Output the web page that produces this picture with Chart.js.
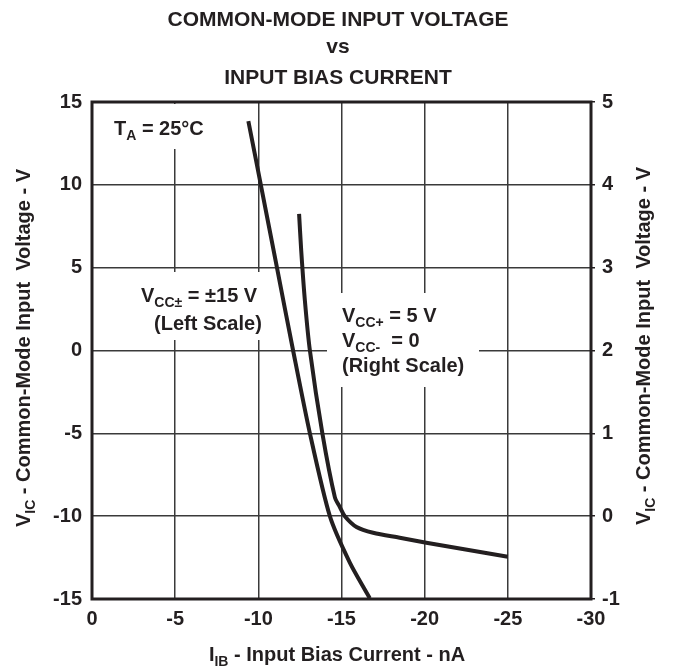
<!DOCTYPE html>
<html>
<head>
<meta charset="utf-8">
<script src="https://cdn.jsdelivr.net/npm/chart.js@4.4.1/dist/chart.umd.min.js"></script>
<style>
html,body{margin:0;padding:0;background:#fff;}
#wrap{width:674px;height:670px;position:relative;}
</style>
</head>
<body>
<div id="wrap"><canvas id="c" width="674" height="670"></canvas></div>
<script>
// ---- data ----
const xTicks = [0, -5, -10, -15, -20, -25, -30];
const leftTicks = [-15, -10, -5, 0, 5, 10, 15];
const rightTicks = [-1, 0, 1, 2, 3, 4, 5];

// VCC± = ±15 V (left scale)
const dualIb = [-9.4, -10.15, -11.12, -12.09, -13.1, -14.3, -15.5, -16.7];
const dualVic = [13.85, 10, 5, 0, -5, -10, -12.8, -14.95];

// VCC+ = 5 V, VCC- = 0 (right scale)
const singleIb = [-12.45, -12.58, -12.8, -13.1, -13.85, -14.6, -14.9, -15.2, -15.9, -16.9, -18.5, -20.1, -25];
const singleVic = [3.65, 3.2, 2.6, 2.0, 1.0, 0.23, 0.11, 0.0, -0.13, -0.2, -0.26, -0.32, -0.49];

const titleLines = ['COMMON-MODE INPUT VOLTAGE', 'vs', 'INPUT BIAS CURRENT'];

const INK = '#231f20';
const GRID = '#3a3a3a';
const FONT = '"Liberation Sans", Arial, Helvetica, sans-serif';
const TXT = 20, SUB = 14;

function pts(xs, ys){ return xs.map((x,i)=>({x:x, y:ys[i]})); }

function richWidth(ctx, parts, size, subSize){
  let w = 0;
  for (const p of parts){
    ctx.font = 'bold ' + (p.sub ? subSize : size) + 'px ' + FONT;
    w += ctx.measureText(p.t).width;
  }
  return w;
}
function drawRich(ctx, parts, x, y, size, subSize, align){
  let w = richWidth(ctx, parts, size, subSize);
  let cx = align === 'center' ? x - w/2 : x;
  ctx.textBaseline = 'alphabetic';
  ctx.textAlign = 'left';
  ctx.fillStyle = INK;
  for (const p of parts){
    ctx.font = 'bold ' + (p.sub ? subSize : size) + 'px ' + FONT;
    ctx.fillText(p.t, cx, y + (p.sub ? 5 : 0));
    cx += ctx.measureText(p.t).width;
  }
}

const deco = {
  id: 'deco',
  beforeDatasetsDraw(chart){
    const ctx = chart.ctx, a = chart.chartArea;
    ctx.save();
    ctx.fillStyle = '#fff';
    // white label boxes that interrupt the grid
    ctx.fillRect(100, a.top + 2, 118, 45);
    ctx.fillRect(130, 272, 143, 68);
    ctx.fillRect(327, 293, 152, 94);
    // frame
    ctx.strokeStyle = INK;
    ctx.lineWidth = 3;
    ctx.strokeRect(a.left, a.top, a.right - a.left, a.bottom - a.top);
    ctx.restore();
  },
  afterDraw(chart){
    const ctx = chart.ctx;
    ctx.save();
    // title
    ctx.fillStyle = INK;
    ctx.textAlign = 'center';
    ctx.textBaseline = 'alphabetic';
    ctx.font = 'bold 21px ' + FONT;
    ctx.fillText(titleLines[0], 338, 26);
    ctx.fillText(titleLines[1], 338, 53);
    ctx.fillText(titleLines[2], 338, 84);
    // annotations
    drawRich(ctx, [{t:'T'},{t:'A',sub:true},{t:' = 25°C'}], 114, 135, TXT, SUB);
    drawRich(ctx, [{t:'V'},{t:'CC±',sub:true},{t:' = ±15 V'}], 141, 302, TXT, SUB);
    drawRich(ctx, [{t:'(Left Scale)'}], 154, 330, TXT, SUB);
    drawRich(ctx, [{t:'V'},{t:'CC+',sub:true},{t:' = 5 V'}], 342, 322, TXT, SUB);
    drawRich(ctx, [{t:'V'},{t:'CC-',sub:true},{t:'  = 0'}], 342, 347, TXT, SUB);
    drawRich(ctx, [{t:'(Right Scale)'}], 342, 372, TXT, SUB);
    // x axis title
    drawRich(ctx, [{t:'I'},{t:'IB',sub:true},{t:' - Input Bias Current - nA'}], 337, 661, TXT, SUB, 'center');
    // y axis titles
    const yt = [{t:'V'},{t:'IC',sub:true},{t:' - Common-Mode Input  Voltage - V'}];
    ctx.save();
    ctx.translate(30, 348);
    ctx.rotate(-Math.PI/2);
    drawRich(ctx, yt, 0, 0, TXT, SUB, 'center');
    ctx.restore();
    ctx.save();
    ctx.translate(650, 346);
    ctx.rotate(-Math.PI/2);
    drawRich(ctx, yt, 0, 0, TXT, SUB, 'center');
    ctx.restore();
    ctx.restore();
  }
};

new Chart(document.getElementById('c'), {
  type: 'scatter',
  data: {
    datasets: [
      { label: 'VCC± = ±15 V', data: pts(dualIb, dualVic), yAxisID: 'y', showLine: true,
        borderColor: INK, borderWidth: 4, pointRadius: 0, tension: 0.25, fill: false },
      { label: 'VCC+ = 5 V, VCC- = 0', data: pts(singleIb, singleVic), yAxisID: 'y2', showLine: true,
        borderColor: INK, borderWidth: 4, pointRadius: 0, tension: 0.3, fill: false }
    ]
  },
  options: {
    responsive: false,
    animation: false,
    events: [],
    layout: { padding: { top: 102, left: 0, right: 0, bottom: 0 } },
    plugins: { legend: { display: false }, tooltip: { enabled: false }, title: { display: false } },
    scales: {
      x: {
        type: 'linear', min: -30, max: 0, reverse: true,
        afterBuildTicks(s){ s.ticks = xTicks.map(v=>({value:v})); },
        afterFit(s){ s.height = 71; },
        grid: { color: GRID, lineWidth: 1.5, drawTicks: false },
        border: { display: false },
        ticks: { color: INK, padding: 8, font: { family: FONT, size: TXT, weight: 'bold' }, maxRotation: 0 }
      },
      y: {
        type: 'linear', position: 'left', min: -15, max: 15,
        afterBuildTicks(s){ s.ticks = leftTicks.map(v=>({value:v})); },
        afterFit(s){ s.width = 92; },
        grid: { color: GRID, lineWidth: 1.5, drawTicks: false },
        border: { display: false },
        ticks: { color: INK, padding: 10, font: { family: FONT, size: TXT, weight: 'bold' } }
      },
      y2: {
        type: 'linear', position: 'right', min: -1, max: 5,
        afterBuildTicks(s){ s.ticks = rightTicks.map(v=>({value:v})); },
        afterFit(s){ s.width = 83; },
        grid: { color: INK, lineWidth: 1.5, drawOnChartArea: false, drawTicks: true, tickLength: 4 },
        border: { display: false },
        ticks: { color: INK, padding: 7, font: { family: FONT, size: TXT, weight: 'bold' } }
      }
    }
  },
  plugins: [deco]
});
</script>
</body>
</html>
